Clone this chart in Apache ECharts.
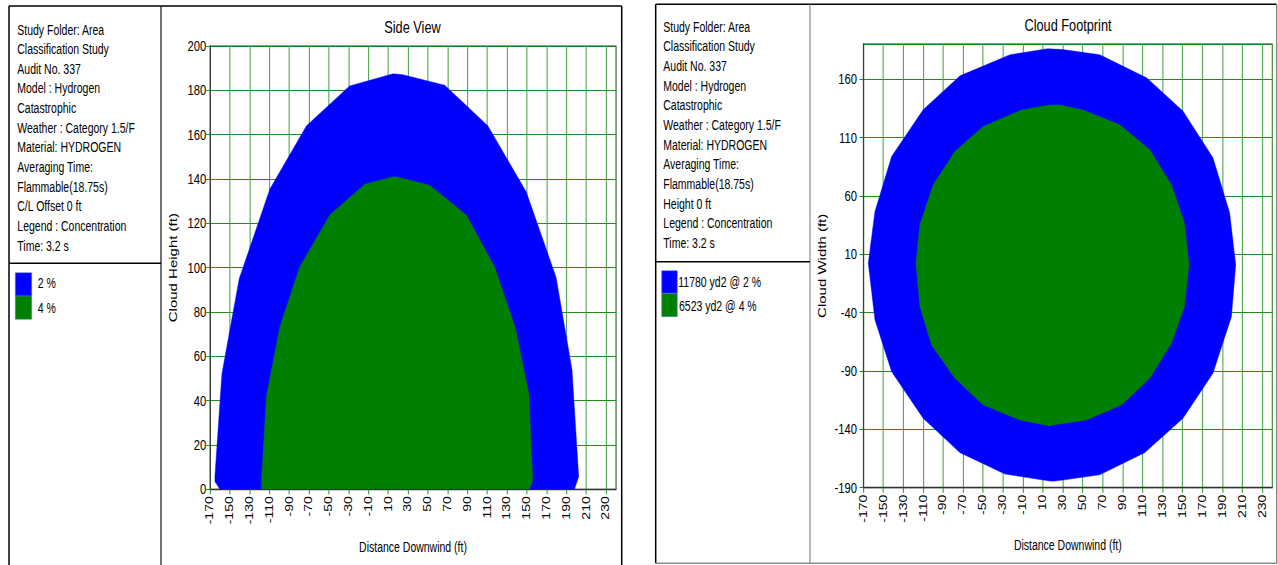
<!DOCTYPE html>
<html><head><meta charset="utf-8">
<script src="https://cdn.jsdelivr.net/npm/echarts@6/dist/echarts.min.js"></script>
<style>
html,body{margin:0;padding:0;background:#fff;overflow:hidden;}
#wrap{width:1278px;height:565px;overflow:hidden;position:relative;background:#fff;}
#chart{width:1704px;height:565px;transform:scaleX(0.75);transform-origin:0 0;}
</style></head><body>
<div id="wrap"><div id="chart"></div></div>
<script>
// ---------- data ----------
const sideNames = ['2 %', '4 %'];
const footNames = ['11780 yd2 @ 2 %', '6523 yd2 @ 4 %'];
const side2pct = [[-160,0],[-165,3.5],[-165,6],[-158,52],[-140.5,95],[-109.5,135.5],[-72.5,164],[-29,182],[15,187.5],[25,187],[67,182.3],[110.5,164],[149.3,134.2],[179.5,95.6],[195.6,53.8],[202.3,5.7],[198,0]];
const side4pct = [[-118,0],[-118,4],[-113,42],[-99.4,73.3],[-79.3,100.4],[-49,123.7],[-13.7,137.6],[15,141],[18,141],[51.8,137.2],[88.8,123.7],[117.3,100.4],[138.5,72.6],[151.9,43.3],[155.9,4.2],[152.6,0]];
const foot2pct = [[15,186],[30,185.2],[67,180.8],[114,161],[150.5,132.5],[180.5,92.5],[197.2,45.5],[203.3,1],[199,-43.5],[180.5,-92],[150.5,-130.5],[112,-160],[67,-179],[30,-183.5],[20,-184.5],[15,-184],[-28,-178.3],[-73,-160],[-110,-130.5],[-141.6,-90.6],[-158.3,-46.3],[-165,2.3],[-158.3,46.5],[-141.6,93.7],[-110,133.7],[-73,162.8],[-23,180.8]];
const foot4pct = [[17,137.8],[27,137.8],[50.3,133.5],[87.1,120.8],[117.1,99.4],[138.9,69.4],[151.9,36.6],[156.5,1],[151.9,-34.9],[138.9,-66.3],[117.1,-96.2],[88.8,-119.1],[53.7,-132],[20.3,-136.3],[17,-137.1],[-13.1,-132],[-49.8,-119.1],[-78.2,-96.2],[-101.5,-67.7],[-113.3,-34.9],[-117.2,2.3],[-113.3,35.1],[-99.9,69.4],[-78.2,98],[-49.8,119.4],[-11.4,133.5]];
const infoSide = ['Study Folder: Area','Classification Study','Audit No. 337','Model : Hydrogen','Catastrophic','Weather : Category 1.5/F','Material: HYDROGEN','Averaging Time:','Flammable(18.75s)','C/L Offset 0 ft','Legend : Concentration','Time: 3.2 s'];
const infoFoot = ['Study Folder: Area','Classification Study','Audit No. 337','Model : Hydrogen','Catastrophic','Weather : Category 1.5/F','Material: HYDROGEN','Averaging Time:','Flammable(18.75s)','Height 0 ft','Legend : Concentration','Time: 3.2 s'];
const titles = ['Side View', 'Cloud Footprint'];
const xName = 'Distance Downwind (ft)';
const yNames = ['Cloud Height (ft)', 'Cloud Width (ft)'];
const xRange = [-170, 240, 20];
const sideYRange = [0, 200, 20];
const footYRange = [-190, 190, 50];

// ---------- layout helpers ----------
const S = 0.75;
const X = v => v / S;
const FONT = '"Liberation Sans", Arial, sans-serif';
const BLUE = '#0000ff', GREEN = '#008000';

function txt(text, x, y, size, align) {
  return {type:'text', x: X(x), y: y, silent:true,
    style:{text: text, fontSize: size, fontFamily: FONT, fill:'#000',
      align: align || 'left', verticalAlign:'middle', textAlign: align || 'left', textVerticalAlign:'middle'}};
}
function line(x1,y1,x2,y2,color,w){
  return {type:'line', silent:true, shape:{x1:X(x1),y1:y1,x2:X(x2),y2:y2}, style:{stroke:color, lineWidth:w}};
}
function rect(x,y,w,h,color){
  return {type:'rect', silent:true, shape:{x:X(x),y:y,width:X(w),height:h}, style:{fill:color, stroke:'#6a6aff', lineWidth:0.6}};
}

const graphics = [];
// left panel frame
graphics.push(line(9,6,621.7,6,'#000',1.5));
graphics.push(line(9,6,9,566,'#000',2));
graphics.push(line(621.7,6,621.7,566,'#000',2));
graphics.push(line(161,6,161,566,'#000',1.5));
graphics.push(line(9,263.3,161,263.3,'#000',1.5));
// right panel frame
graphics.push(line(655.7,4.3,1276.7,4.3,'#000',1.5));
graphics.push(line(655.7,4.3,655.7,563.3,'#000',2));
graphics.push(line(1276.7,4.3,1276.7,563.3,'#8a8a8a',2));
graphics.push(line(655.7,563.3,1276.7,563.3,'#8a8a8a',1.5));
graphics.push(line(810,4.3,810,563.3,'#8a8a8a',1.6));
graphics.push(line(655.7,261.7,810,261.7,'#000',1.5));
// info texts
infoSide.forEach((t,i)=>graphics.push(txt(t,17.3,30+i*19.64,14)));
infoFoot.forEach((t,i)=>graphics.push(txt(t,663.3,27.2+i*19.65,14)));
// titles
graphics.push(txt(titles[0],412.5,27,17,'center'));
graphics.push(txt(titles[1],1068,25,17,'center'));
// legends
graphics.push(rect(15.3,272.7,16.4,23.3,BLUE));
graphics.push(rect(15.3,296,16.4,23.3,GREEN));
graphics.push(txt(sideNames[0],37.7,283.3,14));
graphics.push(txt(sideNames[1],37.7,308.3,14));
graphics.push(rect(661.7,270.7,15.6,22.6,BLUE));
graphics.push(rect(661.7,293.3,15.6,23.4,GREEN));
graphics.push(txt(footNames[0],678.3,282.3,14));
graphics.push(txt(footNames[1],679,306,14));

function polySeries(name, pts, color, gi) {
  return {
    type:'custom', name: name, xAxisIndex: gi, yAxisIndex: gi,
    data: pts, clip: true, silent: true,
    encode: {x:0, y:1},
    renderItem: function(params, api) {
      if (params.dataIndex !== 0) return null;
      const points = pts.map(p => api.coord(p));
      return {type:'polygon', shape:{points: points}, style:{fill: color, stroke: color, lineWidth: 0.5}};
    }
  };
}

function xAxisCfg(gi) {
  return {
    type:'value', gridIndex: gi, min: xRange[0], max: xRange[1], interval: xRange[2],
    name: xName, nameLocation:'middle', nameGap: 51,
    nameTextStyle:{fontSize:14, color:'#000', fontFamily: FONT},
    axisLine:{show:true, onZero:false, lineStyle:{color:'#333', width:1.3}},
    axisTick:{show:true, length:5, lineStyle:{color:'#2a922a', width:1.33}},
    axisLabel:{rotate:90, margin:7, fontSize:14, color:'#000', fontFamily: FONT, showMaxLabel:false},
    splitLine:{show:true, lineStyle:{color:'#3f9f3f', width:1.33}}
  };
}
function yAxisCfg(gi, r, name, gap, margin) {
  return {
    type:'value', gridIndex: gi, min: r[0], max: r[1], interval: r[2],
    name: name, nameLocation:'middle', nameGap: gap,
    nameTextStyle:{fontSize:15, color:'#000', fontFamily: FONT},
    axisLine:{show:true, onZero:false, lineStyle:{color:'#333', width:1.3}},
    axisTick:{show:true, length:5, lineStyle:{color:'#008000', width:1}},
    axisLabel:{margin: margin, fontSize:15, color:'#000', fontFamily: FONT, showMaxLabel: gi === 0},
    splitLine:{show:true, lineStyle:{color:'#008000', width:1}}
  };
}

const chart = echarts.init(document.getElementById('chart'), null, {renderer:'svg', width:1704, height:565});
chart.setOption({
  animation:false,
  backgroundColor:'#fff',
  grid:[
    {left: X(210), top:46, width: X(406), height:443.3, show:true, borderColor:'#777', borderWidth:1.3, backgroundColor:'#fff'},
    {left: X(863.3), top:44, width: X(409), height:443.7, show:true, borderColor:'#777', borderWidth:1.3, backgroundColor:'#fff'}
  ],
  xAxis:[xAxisCfg(0), xAxisCfg(1)],
  yAxis:[yAxisCfg(0, sideYRange, yNames[0], 41, 5), yAxisCfg(1, footYRange, yNames[1], 47, 8.5)],
  series:[
    polySeries(sideNames[0], side2pct, BLUE, 0),
    polySeries(sideNames[1], side4pct, GREEN, 0),
    polySeries(footNames[0], foot2pct, BLUE, 1),
    polySeries(footNames[1], foot4pct, GREEN, 1)
  ],
  graphic: graphics
});
</script>
</body></html>
